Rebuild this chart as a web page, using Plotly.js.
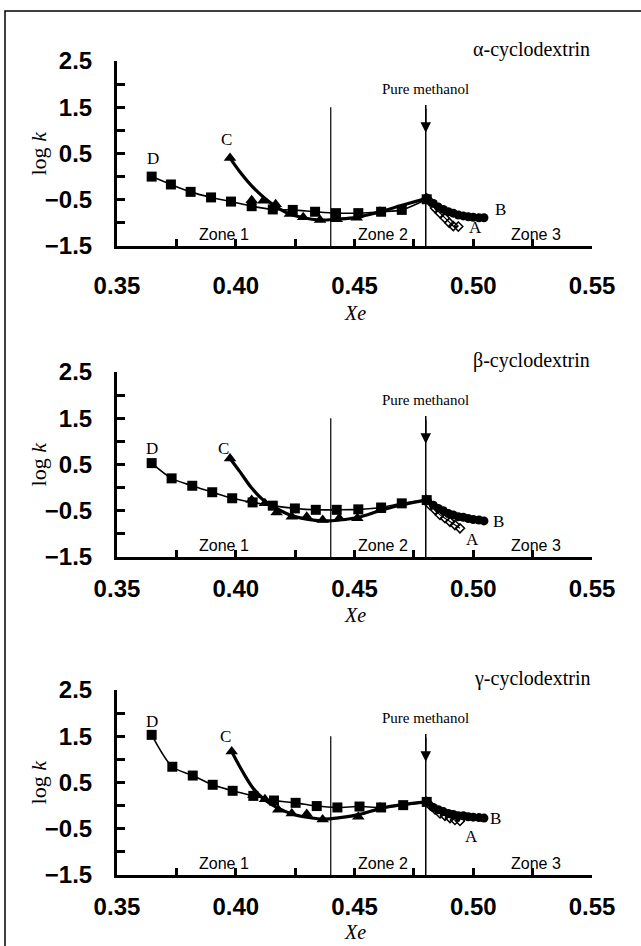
<!DOCTYPE html>
<html><head><meta charset="utf-8">
<script src="https://cdn.plot.ly/plotly-3.0.1.min.js"></script>
<style>html,body{margin:0;padding:0;background:#fff}#chart{width:641px;height:946px}</style>
</head><body><div id="chart"></div>
<script>
// ---- data ----
const panelNames = ["α-cyclodextrin", "β-cyclodextrin", "γ-cyclodextrin"];
const zoneLabels = ["Zone 1", "Zone 2", "Zone 3"];
const xTickVals = [0.35, 0.40, 0.45, 0.50, 0.55];
const yTickVals = [-1.5, -0.5, 0.5, 1.5, 2.5];

// alpha-cyclodextrin
const alphaD_x = [0.3646,0.3727,0.3810,0.3896,0.3980,0.4067,0.4156,0.4240,0.4334,0.4422,0.4516,0.4612,0.4699,0.4804];
const alphaD_y = [0.00,-0.17,-0.33,-0.45,-0.54,-0.64,-0.71,-0.72,-0.76,-0.79,-0.79,-0.76,-0.72,-0.49];
const alphaC_x = [0.3976,0.4067,0.4116,0.4168,0.4228,0.4284,0.4355,0.4425,0.4509,0.4607];
const alphaC_y = [0.40,-0.51,-0.52,-0.60,-0.81,-0.88,-0.94,-0.92,-0.89,-0.76];
const alphaCfit_x = [0.3976,0.4018,0.4067,0.4116,0.4158,0.4215,0.4284,0.4355,0.4425,0.4509,0.4607,0.4700,0.4804];
const alphaCfit_y = [0.40,0.10,-0.20,-0.44,-0.61,-0.78,-0.89,-0.94,-0.92,-0.88,-0.76,-0.62,-0.47];
const alphaB_x = [0.4804,0.4832,0.4853,0.4874,0.4895,0.4916,0.4937,0.4958,0.4979,0.5000,0.5024,0.5045];
const alphaB_y = [-0.47,-0.58,-0.66,-0.71,-0.76,-0.79,-0.83,-0.85,-0.87,-0.88,-0.89,-0.89];
const alphaA_x = [0.4804,0.4818,0.4839,0.4860,0.4881,0.4899,0.4916,0.4937];
const alphaA_y = [-0.47,-0.54,-0.68,-0.79,-0.90,-1.00,-1.07,-1.08];

// beta-cyclodextrin
const betaD_x = [0.3646,0.3730,0.3817,0.3901,0.3985,0.4071,0.4156,0.4249,0.4337,0.4425,0.4516,0.4612,0.4699,0.4804];
const betaD_y = [0.53,0.20,0.04,-0.10,-0.23,-0.32,-0.39,-0.45,-0.48,-0.48,-0.47,-0.43,-0.34,-0.27];
const betaC_x = [0.3976,0.4067,0.4123,0.4172,0.4236,0.4299,0.4366,0.4436,0.4512,0.4607];
const betaC_y = [0.63,-0.27,-0.34,-0.54,-0.63,-0.63,-0.70,-0.66,-0.66,-0.49];
const betaCfit_x = [0.3976,0.4018,0.4067,0.4116,0.4165,0.4228,0.4299,0.4366,0.4439,0.4516,0.4612,0.4700,0.4804];
const betaCfit_y = [0.63,0.34,-0.01,-0.27,-0.43,-0.59,-0.68,-0.72,-0.70,-0.64,-0.49,-0.37,-0.27];
const betaB_x = [0.4804,0.4832,0.4853,0.4874,0.4895,0.4916,0.4937,0.4958,0.4979,0.5000,0.5024,0.5045];
const betaB_y = [-0.27,-0.38,-0.45,-0.50,-0.56,-0.59,-0.63,-0.64,-0.67,-0.69,-0.70,-0.72];
const betaA_x = [0.4804,0.4818,0.4839,0.4860,0.4881,0.4902,0.4923,0.4944];
const betaA_y = [-0.27,-0.38,-0.48,-0.59,-0.66,-0.74,-0.81,-0.88];

// gamma-cyclodextrin
const gammaD_x = [0.3646,0.3733,0.3819,0.3903,0.3987,0.4074,0.4161,0.4252,0.4341,0.4428,0.4521,0.4612,0.4705,0.4804];
const gammaD_y = [1.53,0.84,0.65,0.45,0.32,0.21,0.11,0.06,-0.01,-0.04,-0.02,-0.04,0.01,0.08];
const gammaC_x = [0.3983,0.4074,0.4123,0.4179,0.4236,0.4299,0.4366,0.4516,0.4607];
const gammaC_y = [1.17,0.23,0.14,-0.09,-0.17,-0.18,-0.30,-0.24,-0.04];
const gammaCfit_x = [0.3983,0.4025,0.4074,0.4123,0.4172,0.4236,0.4299,0.4366,0.4439,0.4523,0.4612,0.4700,0.4804];
const gammaCfit_y = [1.17,0.77,0.37,0.12,-0.04,-0.18,-0.25,-0.29,-0.26,-0.19,-0.06,0.02,0.08];
const gammaB_x = [0.4804,0.4832,0.4853,0.4874,0.4895,0.4916,0.4937,0.4958,0.4979,0.5000,0.5024,0.5045];
const gammaB_y = [0.08,-0.04,-0.09,-0.13,-0.17,-0.19,-0.22,-0.22,-0.24,-0.25,-0.26,-0.27];
const gammaA_x = [0.4804,0.4818,0.4839,0.4860,0.4881,0.4902,0.4923,0.4944];
const gammaA_y = [0.08,0.01,-0.08,-0.17,-0.22,-0.27,-0.31,-0.33];

const zoneBoundary = 0.44;      // Zone 1 / Zone 2
const pureMethanol = 0.48;      // Zone 2 / Zone 3
const zoneLabelX = [0.3950, 0.4620, 0.5264];

// curve label positions [x, y] for D, C, B, A in each panel
const curveLabelText = ["D", "C", "B", "A"];
const curveLabelPos = [
  [[0.3652,0.40],[0.3962,0.81],[0.5113,-0.72],[0.5008,-1.11]],
  [[0.3646,0.85],[0.3948,0.85],[0.5105,-0.74],[0.4998,-1.13]],
  [[0.3646,1.81],[0.3955,1.49],[0.5092,-0.27],[0.4993,-0.67]]
];

// ---- build ----
const panels = [
  {D:[alphaD_x,alphaD_y],C:[alphaC_x,alphaC_y],Cf:[alphaCfit_x,alphaCfit_y],B:[alphaB_x,alphaB_y],A:[alphaA_x,alphaA_y]},
  {D:[betaD_x,betaD_y],C:[betaC_x,betaC_y],Cf:[betaCfit_x,betaCfit_y],B:[betaB_x,betaB_y],A:[betaA_x,betaA_y]},
  {D:[gammaD_x,gammaD_y],C:[gammaC_x,gammaC_y],Cf:[gammaCfit_x,gammaCfit_y],B:[gammaB_x,gammaB_y],A:[gammaA_x,gammaA_y]}
];
const W = 641, H = 946;
const yDomains = [[0.7400,0.9355],[0.4112,0.6068],[0.0751,0.2706]];
const xDomain = [0.1825,0.9236];
const xLabelStandoff = [16, 8, 8];
const xTitlePx = [313, 615, 932];   // vertical centre of the "Xe" titles

const serif = "Liberation Serif, Times New Roman, serif";
const sans = "Liberation Sans, Arial, sans-serif";

const traces = [];
const layout = {
  width:W, height:H, autosize:false,
  margin:{l:0,r:0,t:0,b:0},
  paper_bgcolor:"#fff", plot_bgcolor:"rgba(0,0,0,0)",
  showlegend:false,
  annotations:[], shapes:[]
};

panels.forEach((p,i)=>{
  const n = i===0 ? "" : String(i+1);
  const xa = "x"+n, ya = "y"+n;
  const common = {xaxis:xa, yaxis:ya, hoverinfo:"skip", cliponaxis:false};
  // D: squares, thin line
  traces.push(Object.assign({x:p.D[0], y:p.D[1], mode:"lines+markers",
    line:{color:"#000", width:1.6, shape:"spline", smoothing:0.8},
    marker:{symbol:"square", size:10, color:"#000"}}, common));
  // C: thick smooth curve + triangles
  traces.push(Object.assign({x:p.Cf[0], y:p.Cf[1], mode:"lines",
    line:{color:"#000", width:3.2, shape:"spline", smoothing:1}}, common));
  traces.push(Object.assign({x:p.C[0], y:p.C[1], mode:"markers",
    marker:{symbol:"triangle-up", size:11, color:"#000"}}, common));
  // A: open diamonds
  traces.push(Object.assign({x:p.A[0], y:p.A[1], mode:"lines+markers",
    line:{color:"#000", width:1.2},
    marker:{symbol:"diamond-open", size:7, color:"#000", line:{width:1.5}}}, common));
  // B: filled circles
  traces.push(Object.assign({x:p.B[0], y:p.B[1], mode:"lines+markers",
    line:{color:"#000", width:1.5},
    marker:{symbol:"circle", size:9, color:"#000"}}, common));

  layout["xaxis"+n] = {
    domain:xDomain, anchor:ya, range:[0.35,0.55],
    showgrid:false, zeroline:false,
    showline:true, linecolor:"#000", linewidth:3,
    ticks:"inside", ticklen:7, tickwidth:3, tickcolor:"#000",
    tickvals:xTickVals, tickformat:".2f",
    minor:{dtick:0.025, tick0:0.35, ticks:"inside", ticklen:7, tickwidth:3, tickcolor:"#000"},
    ticklabelstandoff:xLabelStandoff[i],
    tickfont:{family:sans, size:24, color:"#000", weight:"bold"}
  };
  layout["yaxis"+n] = {
    domain:yDomains[i], anchor:xa, range:[-1.5,2.5],
    showgrid:false, zeroline:false,
    showline:true, linecolor:"#000", linewidth:3,
    ticks:"inside", ticklen:8, tickwidth:3, tickcolor:"#000",
    tickvals:yTickVals, tickformat:".1f",
    minor:{dtick:0.5, tick0:-1.5, ticks:"inside", ticklen:8, tickwidth:3, tickcolor:"#000"},
    ticklabelstandoff:17,
    tickfont:{family:sans, size:24, color:"#000", weight:"bold"}
  };
  // axis titles
  layout.annotations.push({xref:"paper", yref:ya+" domain", x:38/W, y:0.5, xanchor:"center", yanchor:"middle",
    textangle:-90, text:"log <i>k</i>", showarrow:false, font:{family:serif, size:22, color:"#000"}});
  layout.annotations.push({xref:xa+" domain", yref:"paper", x:0.5, y:1-xTitlePx[i]/H, xanchor:"center", yanchor:"middle",
    text:"<i>Xe</i>", showarrow:false, font:{family:serif, size:20, color:"#000"}});

  // zone lines
  layout.shapes.push({type:"line", xref:xa, yref:ya, x0:zoneBoundary, x1:zoneBoundary, y0:-1.5, y1:1.5,
    line:{color:"#000", width:1.2}});
  layout.shapes.push({type:"line", xref:xa, yref:ya, x0:pureMethanol, x1:pureMethanol, y0:-1.5, y1:1.55,
    line:{color:"#000", width:1.5}});
  // arrow head on pure methanol line
  layout.annotations.push({xref:xa, yref:ya, x:pureMethanol, y:0.95, axref:xa, ayref:ya,
    ax:pureMethanol, ay:1.5, showarrow:true, arrowhead:2, arrowsize:1.4, arrowwidth:1.5,
    arrowcolor:"#000", text:""});
  layout.annotations.push({xref:xa, yref:ya, x:pureMethanol, y:1.9, text:"Pure methanol",
    showarrow:false, font:{family:serif, size:15, color:"#000"}});
  // panel title (above the plot area, in domain coordinates)
  layout.annotations.push({xref:xa+" domain", yref:ya+" domain", x:1.0, y:1.06, xanchor:"right", yanchor:"middle",
    text:panelNames[i], showarrow:false, font:{family:serif, size:20, color:"#000"}});
  // zone labels
  zoneLabels.forEach((z,k)=>layout.annotations.push({xref:xa, yref:ya, x:zoneLabelX[k], y:-1.26,
    text:z, showarrow:false, font:{family:sans, size:16, color:"#000"}}));
  // curve labels
  curveLabelText.forEach((t,k)=>layout.annotations.push({xref:xa, yref:ya,
    x:curveLabelPos[i][k][0], y:curveLabelPos[i][k][1], text:t, showarrow:false,
    font:{family:serif, size:17, color:"#000"}}));
});

// outer frame of the figure
layout.shapes.push({type:"rect", xref:"paper", yref:"paper", x0:5/W, x1:1.02, y0:-0.02, y1:1-11/H,
  line:{color:"#000", width:1.5}, fillcolor:"rgba(0,0,0,0)"});

Plotly.newPlot("chart", traces, layout, {staticPlot:true, displayModeBar:false});
</script></body></html>
